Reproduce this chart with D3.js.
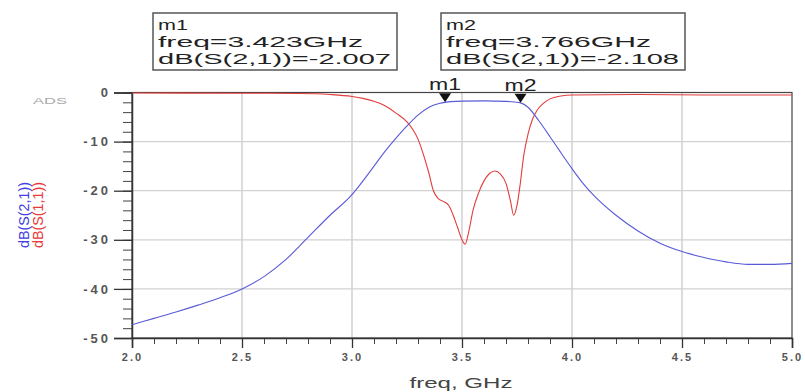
<!DOCTYPE html>
<html>
<head>
<meta charset="utf-8">
<script src="https://cdn.jsdelivr.net/npm/d3@7"></script>
<style>
  body { margin: 0; background: #fff; }
  text { font-family: "Liberation Sans", Arial, sans-serif; }
</style>
</head>
<body>
<script>
(function() {
    'use strict';

    // S(2,1) in dB
    var s21Freq = [2.0, 2.1, 2.2, 2.3, 2.4, 2.5, 2.6, 2.7, 2.8, 2.9, 3.0, 3.05, 3.1, 3.15, 3.2, 3.25, 3.3, 3.35, 3.4, 3.423, 3.45, 3.5, 3.6, 3.7, 3.74, 3.766, 3.8, 3.85, 3.9, 3.95, 4.0, 4.05, 4.1, 4.2, 4.3, 4.4, 4.5, 4.6, 4.7, 4.8, 4.9, 5.0];
    var s21dB = [-47.3, -46.0, -44.7, -43.3, -41.8, -40.0, -37.5, -34.0, -29.5, -25.0, -20.8, -18.0, -15.0, -12.0, -9.3, -6.8, -4.6, -3.0, -2.2, -2.007, -1.85, -1.75, -1.7, -1.8, -1.95, -2.108, -3.0, -5.8, -9.0, -12.3, -15.5, -18.5, -21.0, -25.0, -28.2, -30.7, -32.4, -33.6, -34.5, -35.0, -35.0, -34.8];

    // S(1,1) in dB
    var s11Freq = [2.0, 2.5, 2.76, 2.9, 3.0, 3.05, 3.1, 3.15, 3.2, 3.25, 3.28, 3.3, 3.32, 3.35, 3.37, 3.39, 3.42, 3.44, 3.46, 3.48, 3.5, 3.514, 3.53, 3.55, 3.575, 3.6, 3.625, 3.65, 3.675, 3.7, 3.72, 3.735, 3.75, 3.765, 3.78, 3.8, 3.82, 3.84, 3.87, 3.9, 3.95, 4.0, 4.3, 4.6, 5.0];
    var s11dB = [-0.1, -0.15, -0.2, -0.4, -0.8, -1.2, -1.8, -2.7, -4.2, -6.0, -7.8, -9.5, -12.0, -16.5, -20.0, -21.5, -22.3, -23.0, -25.0, -27.5, -30.0, -30.9, -28.5, -24.0, -20.5, -18.0, -16.5, -16.0, -16.6, -18.5, -22.0, -25.0, -23.0, -18.5, -13.0, -8.5, -5.5, -3.7, -2.2, -1.3, -0.7, -0.5, -0.4, -0.5, -0.5];

    var xTicks = [2.0, 2.5, 3.0, 3.5, 4.0, 4.5, 5.0];
    var yTicks = [0, -10, -20, -30, -40, -50];

    var markerNames = ['m1', 'm2'];
    var markerFreq = [3.423, 3.766];
    var markerdB = [-2.007, -2.108];

    var w = 805, h = 392;
    var left = 132, right = 792, top = 92.5, bottom = 338;

    // ADS prints a plain hyphen, not the unicode minus
    var fmt = function(spec) {
        var f = d3.format(spec);
        return function(v) { return f(v).replace('\u2212', '-'); };
    };

    var svg = d3.select('body').append('svg')
                .attr('width', w)
                .attr('height', h);

    var x = d3.scaleLinear().domain([2, 5]).range([left, right]);
    var y = d3.scaleLinear().domain([-50, 0]).range([bottom, top]);

    // grid
    svg.append('g').selectAll('line')
       .data(xTicks.slice(1, -1))
       .enter().append('line')
       .attr('x1', function(d) { return x(d); })
       .attr('x2', function(d) { return x(d); })
       .attr('y1', top).attr('y2', bottom)
       .attr('stroke', '#c4c4c4').attr('stroke-width', 1.2);
    svg.append('g').selectAll('line')
       .data(yTicks.slice(1, -1))
       .enter().append('line')
       .attr('x1', left).attr('x2', right)
       .attr('y1', function(d) { return y(d); })
       .attr('y2', function(d) { return y(d); })
       .attr('stroke', '#d2d2d2').attr('stroke-width', 1.2);

    // frame
    svg.append('rect')
       .attr('x', left).attr('y', top)
       .attr('width', right - left).attr('height', bottom - top)
       .attr('fill', 'none').attr('stroke', '#444').attr('stroke-width', 1.2);

    // minor ticks
    var yMinor = d3.range(-50, 0.1, 2);
    var xMinor = d3.range(20, 50.1, 1).map(function(d) { return d / 10; });

    svg.append('g')
       .attr('transform', 'translate(' + left + ',0)')
       .call(d3.axisLeft(y).tickValues(yMinor).tickSize(9).tickFormat(''))
       .call(function(g) { g.select('.domain').remove(); })
       .selectAll('line').attr('stroke', '#444');
    svg.append('g')
       .attr('transform', 'translate(0,' + bottom + ')')
       .call(d3.axisBottom(x).tickValues(xMinor).tickSize(6).tickFormat(''))
       .call(function(g) { g.select('.domain').remove(); })
       .selectAll('line').attr('stroke', '#444');

    // major ticks + labels
    var yAxis = svg.append('g')
       .attr('transform', 'translate(' + left + ',0)')
       .call(d3.axisLeft(y).tickValues(yTicks).tickSize(18).tickPadding(3)
               .tickFormat(fmt('d')));
    yAxis.select('.domain').attr('stroke', '#333').attr('stroke-width', 1.5);
    yAxis.selectAll('line').attr('stroke', '#333').attr('stroke-width', 1.3);
    yAxis.selectAll('text')
         .attr('fill', '#555').attr('font-size', 13).attr('font-weight', 'bold')
         .style('letter-spacing', '3px')
         .attr('font-family', '"Liberation Sans", Arial, sans-serif');

    var xAxis = svg.append('g')
       .attr('transform', 'translate(0,' + bottom + ')')
       .call(d3.axisBottom(x).tickValues(xTicks).tickSize(10).tickPadding(5)
               .tickFormat(fmt('.1f')));
    xAxis.select('.domain').attr('stroke', '#333').attr('stroke-width', 1.5);
    xAxis.selectAll('line').attr('stroke', '#333').attr('stroke-width', 1.3);
    xAxis.selectAll('text')
         .attr('fill', '#555').attr('font-size', 11).attr('font-weight', 'bold')
         .style('letter-spacing', '2px')
         .attr('font-family', '"Liberation Sans", Arial, sans-serif');

    // curves
    var line = d3.line()
                 .x(function(d) { return x(d[0]); })
                 .y(function(d) { return y(d[1]); })
                 .curve(d3.curveMonotoneX);

    svg.append('path')
       .datum(d3.zip(s11Freq, s11dB))
       .attr('d', line)
       .attr('fill', 'none').attr('stroke', '#e23c3c').attr('stroke-width', 1.1);
    svg.append('path')
       .datum(d3.zip(s21Freq, s21dB))
       .attr('d', line)
       .attr('fill', 'none').attr('stroke', '#5a5ad8').attr('stroke-width', 1.1);

    // markers on the trace
    var markers = d3.zip(markerNames, markerFreq, markerdB);
    var mk = svg.append('g').selectAll('g')
                .data(markers).enter().append('g')
                .attr('transform', function(d) {
                    return 'translate(' + x(d[1]) + ',' + y(d[2]) + ')';
                });
    mk.append('path')
      .attr('d', 'M-6,-9L6,-9L0,0Z')
      .attr('fill', '#111');
    mk.append('text')
      .attr('y', -12)
      .attr('text-anchor', 'middle')
      .attr('font-size', 16)
      .attr('textLength', 32).attr('lengthAdjust', 'spacingAndGlyphs')
      .attr('fill', '#222')
      .text(function(d) { return d[0]; });

    // readout boxes
    var boxX = [153, 441];
    var boxes = svg.append('g').selectAll('g')
                   .data(markers).enter().append('g')
                   .attr('transform', function(d, i) {
                       return 'translate(' + boxX[i] + ',13)';
                   });
    boxes.append('rect')
         .attr('width', 244).attr('height', 57)
         .attr('fill', '#fff').attr('stroke', '#555').attr('stroke-width', 1.5);
    var lineText = function(d) {
        return [d[0], 'freq=' + fmt('.3f')(d[1]) + 'GHz',
                'dB(S(2,1))=' + fmt('.3f')(d[2])];
    };
    var lens = [30, 205, 233];
    boxes.each(function(d) {
        var g = d3.select(this);
        lineText(d).forEach(function(t, j) {
            g.append('text')
             .attr('x', 5).attr('y', 17 + j * 17)
             .attr('font-size', 15)
             .attr('textLength', lens[j]).attr('lengthAdjust', 'spacingAndGlyphs')
             .attr('fill', '#222')
             .text(t);
        });
    });

    // titles
    svg.append('text')
       .attr('x', 461).attr('y', 388)
       .attr('text-anchor', 'middle')
       .attr('font-size', 14)
       .attr('textLength', 103).attr('lengthAdjust', 'spacingAndGlyphs')
       .attr('fill', '#444')
       .text('freq, GHz');

    svg.append('text')
       .attr('transform', 'translate(29,215) rotate(-90)')
       .attr('text-anchor', 'middle')
       .attr('font-size', 14)
       .attr('textLength', 66).attr('lengthAdjust', 'spacingAndGlyphs')
       .attr('fill', '#4040e0')
       .text('dB(S(2,1))');
    svg.append('text')
       .attr('transform', 'translate(43,215) rotate(-90)')
       .attr('text-anchor', 'middle')
       .attr('font-size', 14)
       .attr('textLength', 66).attr('lengthAdjust', 'spacingAndGlyphs')
       .attr('fill', '#e83a3a')
       .text('dB(S(1,1))');

    svg.append('text')
       .attr('x', 33).attr('y', 104)
       .attr('font-size', 9)
       .attr('textLength', 34).attr('lengthAdjust', 'spacingAndGlyphs')
       .attr('fill', '#aaa')
       .text('ADS');
}());
</script>
</body>
</html>
